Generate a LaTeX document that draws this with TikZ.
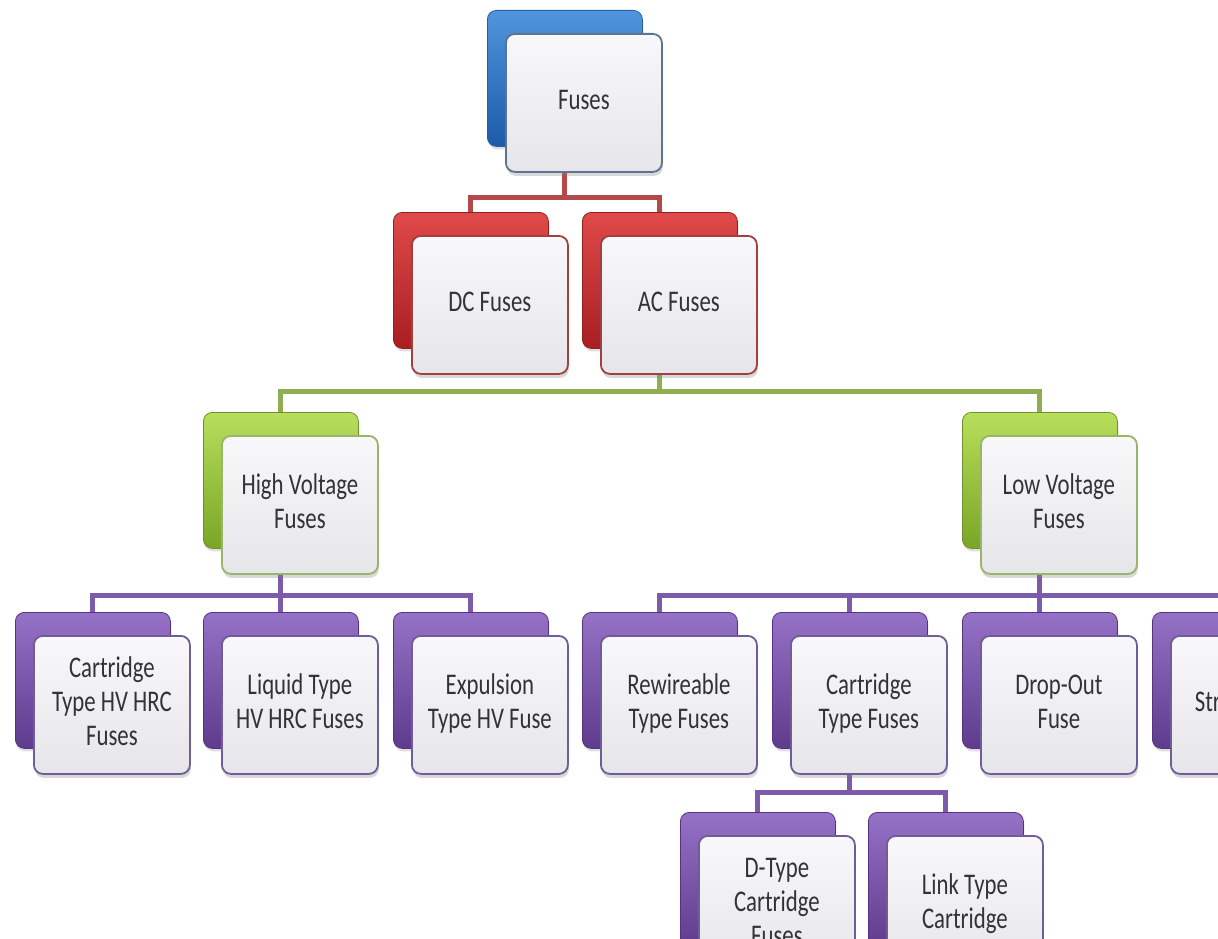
\documentclass[tikz,border=0pt]{standalone}
\usepackage{fontspec}
\setmainfont{Carlito}
\usetikzlibrary{shadows,calc}
\pgfdeclarelayer{bg}
\pgfsetlayers{bg,main}
\definecolor{bluehi}{HTML}{4F95DD}\definecolor{bluelo}{HTML}{1C5BAA}
\definecolor{bluedk}{HTML}{2A5E9E}\definecolor{bluefr}{HTML}{5A7594}
\definecolor{redhi}{HTML}{E04A4A}\definecolor{redlo}{HTML}{A81E22}
\definecolor{reddk}{HTML}{8E2020}\definecolor{redfr}{HTML}{A04040}
\definecolor{redln}{HTML}{B5484A}
\definecolor{greenhi}{HTML}{B8DE5C}\definecolor{greenlo}{HTML}{7AA526}
\definecolor{greendk}{HTML}{6F9030}\definecolor{greenfr}{HTML}{98B56A}
\definecolor{greenln}{HTML}{8FAE52}
\definecolor{purplehi}{HTML}{9672C6}\definecolor{purplelo}{HTML}{5F3B8E}
\definecolor{purpledk}{HTML}{553380}\definecolor{purplefr}{HTML}{705C98}
\definecolor{purpleln}{HTML}{7C5CAA}
\definecolor{frtop}{HTML}{F8F8FA}\definecolor{frbot}{HTML}{E6E6EA}
\definecolor{txt}{HTML}{333333}
\newcommand\lbl[1]{\scalebox{0.76}[1]{\fontsize{30}{34}\selectfont\begin{tabular}{@{}c@{}}#1\end{tabular}}}
\tikzset{
  backbox/.style={rectangle, rounded corners=9pt, minimum width=155pt, minimum height=136pt,
    anchor=north west, inner sep=0pt, draw=#1dk, line width=0.8pt,
    top color=#1hi, bottom color=#1lo,
    drop shadow={opacity=0.25, shadow xshift=1pt, shadow yshift=-3pt}},
  frontbox/.style={rectangle, rounded corners=9pt, minimum width=156pt, minimum height=138pt,
    anchor=north west, inner sep=0pt, draw=#1fr, line width=1.8pt,
    top color=frtop, bottom color=frbot,
    drop shadow={opacity=0.3, shadow xshift=1pt, shadow yshift=-4pt}},
  lbltext/.style={inner sep=0pt, text=txt},
  bus/.style={line width=5pt, draw=#1ln}
}
\newcommand\fusepair[6][0]{%
  \node[backbox=#3] (#2-b) at (#4,#5) {};
  \node[frontbox=#3] (#2) at ([shift={(18,23)}]#2-b.north west) {};
  \node[lbltext] (#2-t) at ([shift={(0,#1)}]#2.center) {\lbl{#6}};
}
\begin{document}
\begin{tikzpicture}[x=1pt,y=-1pt]
\useasboundingbox (0,0) rectangle (1218,939);
\clip (0,0) rectangle (1218,939);

\fusepair{fuses}{blue}{487}{10}{Fuses}
\fusepair{dc}{red}{393}{212}{DC Fuses}
\fusepair{ac}{red}{582}{212}{AC Fuses}
\fusepair{hv}{green}{203}{412}{High Voltage\\Fuses}
\fusepair{lv}{green}{962}{412}{Low Voltage\\Fuses}
\fusepair{chv}{purple}{15}{612}{Cartridge\\Type HV HRC\\Fuses}
\fusepair{liq}{purple}{203}{612}{Liquid Type\\HV HRC Fuses}
\fusepair{exp}{purple}{393}{612}{Expulsion\\Type HV Fuse}
\fusepair{rew}{purple}{582}{612}{Rewireable\\Type Fuses}
\fusepair{cart}{purple}{772}{612}{Cartridge\\Type Fuses}
\fusepair{drop}{purple}{962}{612}{Drop-Out\\Fuse}
\fusepair{str}{purple}{1152}{612}{Striker Fuse}
\fusepair{dtype}{purple}{680}{812}{D-Type\\Cartridge\\Fuses}
\fusepair[17]{link}{purple}{868}{812}{Link Type\\Cartridge\\Fuses}

\begin{pgfonlayer}{bg}
  \fill[white] (0,0) rectangle (1218,939);
  \coordinate (yR) at (0,197);
  \coordinate (yG) at (0,391);
  \coordinate (yP) at (0,595);
  \coordinate (yQ) at (0,792);
  \coordinate (jR) at (fuses-b.center |- yR);
  \coordinate (jG) at (ac-b.center |- yG);
  \coordinate (jH) at (hv-b.center |- yP);
  \coordinate (jL) at (lv-b.center |- yP);
  \coordinate (jC) at (cart-b.center |- yQ);
  \coordinate (lvend) at (1240,595);
  \draw[bus=red] (fuses-b.center) -- (jR);
  \draw[bus=red] (jR) -| (dc-b.north);
  \draw[bus=red] (jR) -| (ac-b.north);
  \draw[bus=green] (ac-b.center) -- (jG);
  \draw[bus=green] (jG) -| (hv-b.north);
  \draw[bus=green] (jG) -| (lv-b.north);
  \draw[bus=purple] (hv-b.center) -- (jH);
  \draw[bus=purple] (jH) -| (chv-b.north);
  \draw[bus=purple] (jH) -| (liq-b.north);
  \draw[bus=purple] (jH) -| (exp-b.north);
  \draw[bus=purple] (lv-b.center) -- (jL);
  \draw[bus=purple] (jL) -| (rew-b.north);
  \draw[bus=purple] (jL) -| (cart-b.north);
  \draw[bus=purple] (jL) -- (drop-b.north);
  \draw[bus=purple] (jL) -| (str-b.north);
  \draw[bus=purple] (jL) -- (lvend);
  \draw[bus=purple] (cart-b.center) -- (jC);
  \draw[bus=purple] (jC) -| (dtype-b.north);
  \draw[bus=purple] (jC) -| (link-b.north);
\end{pgfonlayer}
\end{tikzpicture}
\end{document}
